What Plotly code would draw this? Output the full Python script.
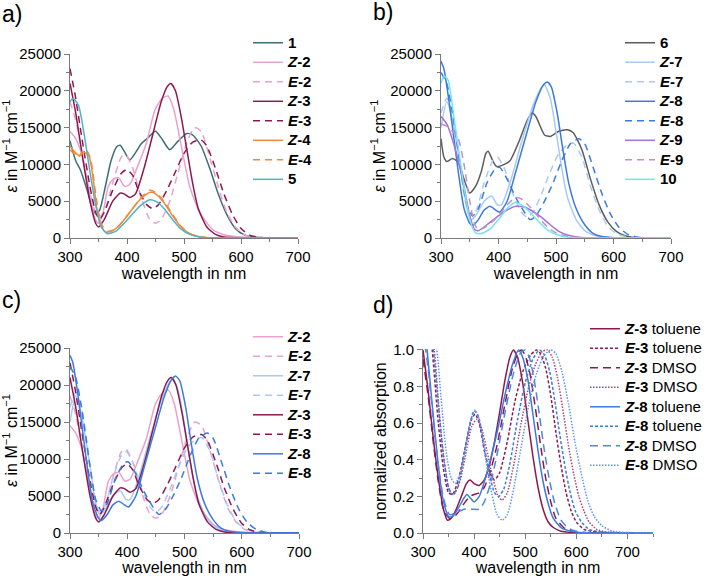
import plotly.graph_objects as go

# ---------------- data: panel a (epsilon in M^-1 cm^-1) ----------------
nm_1 = [300, 310, 318, 330, 340, 345, 352, 362, 372, 382, 388, 395, 405, 415, 425, 435, 450, 460, 475, 490, 505, 515, 530, 545, 560, 575, 590, 605, 620, 640, 700]
eps_1 = [13200, 10500, 9300, 6500, 3900, 3300, 3800, 7000, 10500, 12400, 12600, 11800, 10600, 11600, 12800, 13500, 14500, 13600, 12000, 13200, 14200, 14000, 12500, 9500, 6000, 3200, 1300, 450, 150, 50, 0]

nm_Z2 = [300, 310, 320, 332, 344, 350, 358, 367, 376, 385, 396, 405, 420, 434, 449, 462, 472, 482, 493, 510, 528, 551, 570, 586, 620, 700]
eps_Z2 = [14500, 13500, 11500, 7000, 2600, 2000, 3500, 7000, 8000, 8200, 7000, 7300, 10000, 12900, 17400, 19000, 19300, 17500, 13400, 7000, 3400, 1100, 450, 230, 50, 0]

nm_E2 = [300, 310, 320, 330, 340, 350, 360, 375, 390, 398, 410, 425, 440, 450, 460, 475, 490, 505, 518, 530, 545, 560, 575, 590, 605, 620, 650, 700]
eps_E2 = [18500, 16000, 12000, 8000, 4500, 2800, 3500, 7500, 11000, 11300, 9500, 5500, 2500, 2000, 2500, 5000, 9000, 13000, 15000, 14500, 11000, 7000, 3500, 1500, 500, 150, 0, 0]

nm_Z3 = [300, 310, 320, 335, 345, 350, 360, 375, 388, 395, 405, 415, 430, 445, 460, 470, 477, 485, 495, 505, 515, 525, 540, 555, 570, 600, 700]
eps_Z3 = [21000, 17000, 12000, 5000, 2000, 1500, 2500, 5000, 6100, 6000, 5500, 6000, 9500, 14000, 18500, 20500, 21000, 20000, 16500, 12000, 7500, 4000, 1500, 500, 150, 0, 0]

nm_E3 = [300, 310, 320, 335, 345, 352, 360, 375, 390, 400, 410, 420, 435, 445, 455, 470, 485, 500, 515, 530, 540, 555, 570, 585, 600, 615, 630, 650, 700]
eps_E3 = [23000, 19000, 14000, 7000, 3500, 2500, 3500, 6500, 8800, 9300, 8500, 6500, 4500, 4000, 4500, 6500, 9000, 11500, 13000, 13300, 12500, 9500, 6000, 3200, 1300, 400, 100, 0, 0]

nm_Z4 = [300, 308, 316, 325, 333, 338, 343, 348, 355, 363, 375, 390, 405, 420, 435, 442, 450, 465, 480, 495, 510, 525, 540, 560, 700]
eps_Z4 = [12500, 11700, 11200, 11600, 11200, 9500, 6500, 3500, 1500, 800, 1000, 2000, 3500, 5000, 6000, 6200, 6000, 4800, 3000, 1500, 600, 200, 50, 0, 0]

nm_E4 = [300, 315, 322, 328, 335, 340, 345, 350, 357, 365, 380, 395, 410, 425, 440, 450, 465, 480, 495, 510, 530, 560, 700]
eps_E4 = [12000, 11000, 11800, 12000, 11000, 9000, 6000, 3500, 1600, 900, 1200, 2500, 4000, 5500, 6500, 6200, 5000, 3200, 1600, 600, 150, 0, 0]

nm_5 = [300, 305, 315, 325, 335, 345, 355, 365, 380, 395, 410, 425, 440, 450, 465, 480, 495, 510, 530, 560, 700]
eps_5 = [18500, 19000, 18000, 14000, 9000, 4500, 1500, 600, 900, 2000, 3300, 4500, 5200, 5000, 4000, 2500, 1200, 500, 100, 0, 0]

# ---------------- data: panel b ----------------
nm_6 = [300, 305, 310, 320, 330, 340, 350, 360, 370, 378, 382, 390, 397, 410, 420, 435, 450, 458, 465, 480, 490, 505, 520, 530, 545, 560, 575, 590, 605, 620, 640, 700]
eps_6 = [13500, 11000, 10400, 10800, 10300, 8000, 6100, 7000, 9000, 11500, 11800, 10500, 9700, 10000, 10500, 13000, 16000, 17000, 16500, 14000, 13800, 14500, 14700, 14300, 12000, 8000, 4500, 2200, 900, 300, 50, 0]

nm_Z7 = [300, 310, 320, 335, 345, 352, 360, 375, 388, 398, 405, 420, 440, 460, 475, 480, 490, 500, 510, 520, 535, 550, 570, 600, 700]
eps_Z7 = [15000, 18500, 16000, 9000, 4000, 2500, 3000, 5000, 5700, 4500, 4500, 7500, 13000, 18000, 20500, 20800, 19000, 14500, 9500, 5500, 2500, 1000, 300, 0, 0]

nm_E7 = [300, 310, 320, 330, 340, 350, 360, 375, 390, 398, 410, 425, 440, 450, 460, 475, 490, 505, 520, 530, 545, 560, 575, 590, 605, 620, 650, 700]
eps_E7 = [17000, 19000, 17000, 12000, 6000, 3000, 3500, 7500, 10500, 11000, 9500, 6000, 3500, 2800, 3500, 6000, 9000, 11500, 12700, 12900, 11000, 7000, 3800, 1600, 600, 200, 0, 0]

nm_Z8 = [300, 305, 315, 330, 340, 350, 355, 365, 375, 385, 395, 402, 415, 430, 450, 465, 478, 485, 492, 502, 512, 522, 535, 550, 565, 580, 600, 620, 700]
eps_Z8 = [24000, 23000, 18000, 9000, 4000, 2000, 1700, 2500, 3800, 4300, 3800, 3500, 5000, 9000, 14500, 18500, 20800, 21200, 20500, 17000, 12000, 7500, 4000, 1800, 600, 200, 50, 0, 0]

nm_E8 = [300, 310, 320, 335, 345, 355, 365, 380, 395, 402, 415, 430, 445, 455, 465, 480, 495, 510, 525, 540, 550, 565, 580, 595, 610, 625, 640, 660, 700]
eps_E8 = [22500, 21000, 17000, 9000, 4500, 3000, 4000, 7500, 9500, 9600, 8000, 5500, 3500, 2500, 3000, 5000, 7500, 10500, 12800, 13500, 12800, 9500, 6000, 3200, 1400, 500, 150, 0, 0]

nm_Z9 = [300, 310, 325, 340, 350, 358, 365, 380, 400, 415, 430, 445, 460, 475, 490, 505, 520, 540, 570, 700]
eps_Z9 = [16500, 15500, 12000, 7000, 3000, 1200, 1000, 1800, 3000, 3800, 4300, 4200, 3600, 2800, 1800, 900, 400, 100, 0, 0]

nm_E9 = [300, 310, 320, 330, 340, 350, 358, 365, 380, 400, 415, 430, 440, 455, 470, 485, 500, 520, 550, 700]
eps_E9 = [15500, 15200, 14500, 13500, 10000, 5000, 2000, 1100, 1600, 3000, 4500, 5500, 5300, 4200, 2800, 1500, 700, 200, 0, 0]

nm_10 = [300, 305, 312, 325, 340, 350, 360, 370, 385, 400, 415, 428, 440, 455, 470, 485, 500, 520, 550, 700]
eps_10 = [21000, 22000, 21500, 15000, 7000, 2500, 700, 600, 1200, 2500, 4000, 4800, 4500, 3500, 2200, 1100, 500, 100, 0, 0]

# ---------------- data: panel d (normalized absorption) ----------------
nm_Z3t = [300, 310, 320, 330, 340, 348, 355, 365, 375, 385, 392, 400, 410, 420, 430, 440, 450, 460, 470, 477, 485, 495, 505, 515, 525, 535, 545, 555, 570, 590, 620, 750]
ab_Z3t = [1.0, 0.78, 0.52, 0.3, 0.13, 0.07, 0.08, 0.13, 0.2, 0.27, 0.29, 0.27, 0.26, 0.29, 0.37, 0.5, 0.66, 0.83, 0.96, 1.0, 0.96, 0.82, 0.62, 0.42, 0.25, 0.13, 0.06, 0.03, 0.01, 0.003, 0, 0]

nm_E3t = [305, 318, 330, 340, 350, 358, 370, 385, 395, 402, 410, 420, 432, 440, 450, 465, 480, 495, 510, 522, 530, 540, 550, 560, 570, 580, 590, 600, 615, 640, 750]
ab_E3t = [1.3, 1.0, 0.6, 0.35, 0.22, 0.21, 0.3, 0.5, 0.62, 0.65, 0.6, 0.45, 0.32, 0.29, 0.33, 0.5, 0.72, 0.88, 0.97, 1.0, 0.98, 0.9, 0.75, 0.55, 0.37, 0.22, 0.12, 0.06, 0.02, 0.005, 0]

nm_Z3d = [300, 310, 320, 330, 340, 352, 365, 380, 392, 400, 410, 420, 430, 445, 460, 475, 487, 493, 500, 510, 520, 530, 540, 550, 560, 575, 590, 620, 750]
ab_Z3d = [0.95, 0.75, 0.5, 0.28, 0.13, 0.08, 0.1, 0.16, 0.2, 0.21, 0.22, 0.25, 0.32, 0.48, 0.7, 0.9, 0.99, 1.0, 0.97, 0.86, 0.68, 0.48, 0.3, 0.17, 0.08, 0.03, 0.01, 0, 0]

nm_E3d = [305, 322, 332, 342, 352, 360, 372, 385, 395, 405, 415, 425, 435, 447, 455, 465, 478, 492, 507, 520, 533, 543, 553, 563, 575, 585, 595, 605, 615, 625, 640, 660, 750]
ab_E3d = [1.3, 1.0, 0.65, 0.38, 0.23, 0.21, 0.28, 0.45, 0.58, 0.62, 0.57, 0.45, 0.32, 0.2, 0.18, 0.22, 0.38, 0.6, 0.8, 0.92, 0.99, 1.0, 0.96, 0.85, 0.65, 0.47, 0.32, 0.2, 0.12, 0.06, 0.02, 0.005, 0]

nm_Z8t = [300, 308, 318, 328, 338, 350, 358, 370, 380, 386, 393, 400, 410, 420, 430, 445, 460, 475, 487, 495, 505, 515, 525, 535, 545, 555, 570, 590, 620, 750]
ab_Z8t = [1.2, 1.0, 0.7, 0.42, 0.2, 0.09, 0.09, 0.14, 0.19, 0.21, 0.19, 0.17, 0.2, 0.28, 0.38, 0.55, 0.75, 0.92, 1.0, 0.96, 0.84, 0.65, 0.45, 0.28, 0.16, 0.08, 0.03, 0.01, 0, 0]

nm_E8t = [305, 320, 330, 340, 350, 358, 368, 380, 392, 400, 408, 418, 430, 440, 448, 458, 470, 485, 500, 515, 528, 538, 548, 558, 568, 578, 588, 598, 610, 625, 650, 750]
ab_E8t = [1.3, 1.0, 0.7, 0.42, 0.25, 0.21, 0.25, 0.42, 0.6, 0.67, 0.64, 0.5, 0.32, 0.22, 0.2, 0.24, 0.38, 0.62, 0.82, 0.95, 1.0, 0.97, 0.88, 0.72, 0.53, 0.36, 0.22, 0.12, 0.06, 0.02, 0.005, 0]

nm_Z8d = [300, 310, 320, 330, 340, 352, 365, 380, 395, 410, 420, 432, 445, 460, 475, 490, 500, 508, 518, 528, 538, 548, 558, 570, 585, 600, 630, 750]
ab_Z8d = [1.1, 0.9, 0.62, 0.37, 0.19, 0.1, 0.11, 0.13, 0.13, 0.13, 0.17, 0.27, 0.43, 0.65, 0.85, 0.98, 1.0, 0.96, 0.83, 0.64, 0.44, 0.28, 0.16, 0.07, 0.025, 0.01, 0, 0]

nm_E8d = [305, 327, 335, 345, 355, 363, 372, 385, 395, 402, 410, 420, 432, 445, 455, 465, 478, 492, 507, 522, 537, 550, 560, 572, 585, 597, 610, 622, 635, 650, 670, 700, 750]
ab_E8d = [1.3, 1.0, 0.75, 0.45, 0.3, 0.27, 0.32, 0.5, 0.63, 0.67, 0.62, 0.45, 0.25, 0.1, 0.07, 0.1, 0.25, 0.47, 0.7, 0.87, 0.97, 1.0, 0.98, 0.88, 0.7, 0.5, 0.32, 0.18, 0.09, 0.04, 0.01, 0.003, 0]

# ---------------- tick labels / axis text ----------------
x_ticks = [300, 400, 500, 600, 700]
eps_ticks = [0, 5000, 10000, 15000, 20000, 25000]
norm_ticks = [0.0, 0.2, 0.4, 0.6, 0.8, 1.0]

# ---------------- styles ----------------
FONT = "Liberation Sans, Arial, sans-serif"
AX = "#7a7a7a"
C1, CZ2, CZ3, CZ4, C5 = "#3f6d77", "#e9a2cf", "#8c1a50", "#f0893a", "#4db4c8"
C6, CZ7, CZ8, CZ9, CE9, C10 = "#5c5c5c", "#a9caf2", "#3b7ae0", "#a372da", "#c48fcc", "#74e6ee"
DASH = "7px,5px"
LW = 1.5

W, H = 709, 576
fig = go.Figure()


def sx(p):
    return p / W


def sy(p):
    return 1 - p / H


def add(x, y, name, color, dash, ax, legend, width=LW):
    fig.add_trace(go.Scatter(
        x=x, y=y, name=name, mode="lines",
        line=dict(color=color, width=width, dash=dash, shape="spline", smoothing=0.6),
        xaxis="x" + ax, yaxis="y" + ax, legend=legend, hoverinfo="skip"))


def big(s):
    return '<span style="font-size:15px">%s</span>' % s


def lab(z, rest=""):
    return big("<b><i>%s</i>%s</b>" % (z[0], z[1:]) + rest)


# panel a
add(nm_1, eps_1, big("<b>1</b>"), C1, "solid", "", "legend")
add(nm_Z2, eps_Z2, lab("Z-2"), CZ2, "solid", "", "legend")
add(nm_E2, eps_E2, lab("E-2"), CZ2, DASH, "", "legend")
add(nm_Z3, eps_Z3, lab("Z-3"), CZ3, "solid", "", "legend")
add(nm_E3, eps_E3, lab("E-3"), CZ3, DASH, "", "legend")
add(nm_Z4, eps_Z4, lab("Z-4"), CZ4, "solid", "", "legend")
add(nm_E4, eps_E4, lab("E-4"), CZ4, DASH, "", "legend")
add(nm_5, eps_5, big("<b>5</b>"), C5, "solid", "", "legend")

# panel b
add(nm_6, eps_6, big("<b>6</b>"), C6, "solid", "2", "legend2")
add(nm_Z7, eps_Z7, lab("Z-7"), CZ7, "solid", "2", "legend2")
add(nm_E7, eps_E7, lab("E-7"), CZ7, DASH, "2", "legend2")
add(nm_Z8, eps_Z8, lab("Z-8"), CZ8, "solid", "2", "legend2")
add(nm_E8, eps_E8, lab("E-8"), CZ8, DASH, "2", "legend2")
add(nm_Z9, eps_Z9, lab("Z-9"), CZ9, "solid", "2", "legend2")
add(nm_E9, eps_E9, lab("E-9"), CE9, DASH, "2", "legend2")
add(nm_10, eps_10, big("<b>10</b>"), C10, "solid", "2", "legend2")

# panel c
add(nm_Z2, eps_Z2, lab("Z-2"), CZ2, "solid", "3", "legend3")
add(nm_E2, eps_E2, lab("E-2"), CZ2, DASH, "3", "legend3")
add(nm_Z7, eps_Z7, lab("Z-7"), CZ7, "solid", "3", "legend3")
add(nm_E7, eps_E7, lab("E-7"), CZ7, DASH, "3", "legend3")
add(nm_Z3, eps_Z3, lab("Z-3"), CZ3, "solid", "3", "legend3")
add(nm_E3, eps_E3, lab("E-3"), CZ3, DASH, "3", "legend3")
add(nm_Z8, eps_Z8, lab("Z-8"), CZ8, "solid", "3", "legend3")
add(nm_E8, eps_E8, lab("E-8"), CZ8, DASH, "3", "legend3")

# panel d
add(nm_Z3t, ab_Z3t, lab("Z-3", " toluene"), CZ3, "solid", "4", "legend4")
add(nm_E3t, ab_E3t, lab("E-3", " toluene"), CZ3, "3px,2px", "4", "legend4")
add(nm_Z3d, ab_Z3d, lab("Z-3", " DMSO"), CZ3, "8px,5px", "4", "legend4")
add(nm_E3d, ab_E3d, lab("E-3", " DMSO"), "#a8447a", "1.5px,1.5px", "4", "legend4")
add(nm_Z8t, ab_Z8t, lab("Z-8", " toluene"), CZ8, "solid", "4", "legend4")
add(nm_E8t, ab_E8t, lab("E-8", " toluene"), CZ8, "3px,2px", "4", "legend4")
add(nm_Z8d, ab_Z8d, lab("Z-8", " DMSO"), "#4a88e8", "8px,5px", "4", "legend4")
add(nm_E8d, ab_E8d, lab("E-8", " DMSO"), "#5a96f0", "1.5px,1.5px", "4", "legend4")


def dom_x(a, b):
    return [sx(a), sx(b)]


def dom_y(top, bottom):
    return [sy(bottom), sy(top)]


def xaxis(dom, anchor, rng):
    return dict(domain=dom, anchor=anchor, range=rng, showline=True, linecolor=AX, linewidth=1,
                ticks="outside", ticklen=5, tickcolor=AX, tickwidth=1, automargin=False,
                tickmode="array", tickvals=x_ticks, ticktext=[str(v) for v in x_ticks],
                minor=dict(ticks="outside", ticklen=3, tickcolor=AX, dtick=50, tick0=300, showgrid=False),
                showgrid=False, zeroline=False, tickfont=dict(size=15, color="black", family=FONT),
                title=dict(text="wavelength in nm", font=dict(size=16, color="black", family=FONT), standoff=2))


def yaxis_eps(dom, anchor):
    return dict(domain=dom, anchor=anchor, range=[0, 25000], showline=True, linecolor=AX, linewidth=1,
                ticks="outside", ticklen=5, tickcolor=AX, tickwidth=1, automargin=False,
                tickmode="array", tickvals=eps_ticks, ticktext=[str(v) for v in eps_ticks],
                minor=dict(ticks="outside", ticklen=3, tickcolor=AX, dtick=2500, tick0=0, showgrid=False),
                showgrid=False, zeroline=False, tickfont=dict(size=15, color="black", family=FONT),
                title=dict(text="<i>ε</i> in M<sup>−1</sup> cm<sup>−1</sup>",
                           font=dict(size=16, color="black", family=FONT), standoff=0))


ya = dom_y(54, 238)
yc = dom_y(348, 533)

fig.update_layout(
    width=W, height=H, margin=dict(l=0, r=0, t=0, b=0, autoexpand=False),
    paper_bgcolor="white", plot_bgcolor="white",
    font=dict(family=FONT, color="black"),
    xaxis=xaxis(dom_x(70, 298), "y", [300, 700]),
    yaxis=yaxis_eps(ya, "x"),
    xaxis2=xaxis(dom_x(441, 671), "y2", [300, 700]),
    yaxis2=yaxis_eps(ya, "x2"),
    xaxis3=xaxis(dom_x(70, 299), "y3", [300, 700]),
    yaxis3=yaxis_eps(yc, "x3"),
    xaxis4=xaxis(dom_x(423, 653), "y4", [300, 750]),
    yaxis4=dict(domain=dom_y(349, 533), anchor="x4", range=[0, 1.005], showline=True, linecolor=AX, linewidth=1,
                ticks="outside", ticklen=5, tickcolor=AX, tickwidth=1, automargin=False,
                tickmode="array", tickvals=norm_ticks, ticktext=["%.1f" % v for v in norm_ticks],
                minor=dict(ticks="outside", ticklen=3, tickcolor=AX, dtick=0.1, tick0=0, showgrid=False),
                showgrid=False, zeroline=False, tickfont=dict(size=15, color="black", family=FONT),
                title=dict(text="normalized absorption", font=dict(size=16, color="black", family=FONT), standoff=2)),
)

leg_common = dict(xanchor="left", yanchor="top", bgcolor="rgba(0,0,0,0)", borderwidth=0,
                  font=dict(size=12.7, color="black", family=FONT), itemwidth=30, tracegroupgap=0,
                  traceorder="normal", itemclick=False, itemdoubleclick=False)
fig.update_layout(
    legend=dict(x=sx(248), y=sy(28), **leg_common),
    legend2=dict(x=sx(620), y=sy(28), **leg_common),
    legend3=dict(x=sx(248), y=sy(322), **leg_common),
    legend4=dict(x=sx(585), y=sy(314), **leg_common),
)

for txt, x, y in [("a)", 0, 14), ("b)", 371, 12), ("c)", 0, 300), ("d)", 371, 305)]:
    fig.add_annotation(text=txt, x=sx(x), y=sy(y), xref="paper", yref="paper",
                       xanchor="left", yanchor="middle", showarrow=False,
                       font=dict(size=23, color="black", family=FONT))

# remove the default 8px page margin so the 709x576 figure fills the window
fig.write_html("out.html", config={"displayModeBar": False},
               post_script="document.body.style.margin='0';")
